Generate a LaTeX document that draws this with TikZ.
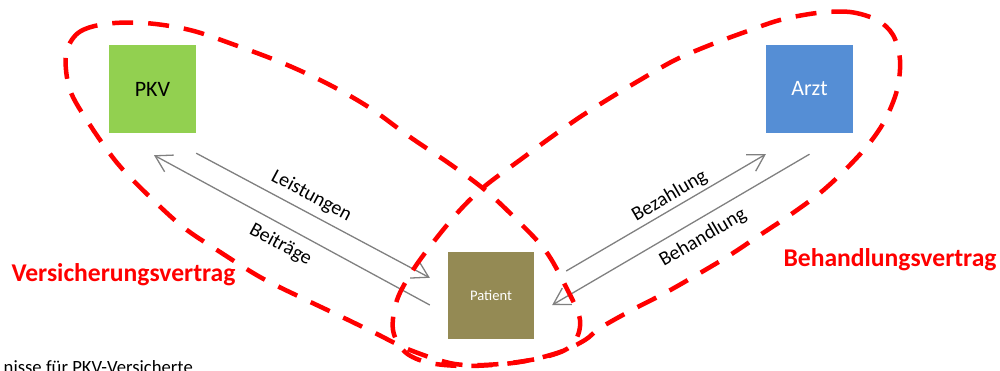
\documentclass[tikz,border=0pt]{standalone}
\usepackage{fontspec}
\setmainfont{Carlito}
\usetikzlibrary{arrows.meta,calc}
\definecolor{pkvgreen}{HTML}{92D050}
\definecolor{arztblue}{HTML}{558ED5}
\definecolor{patbrown}{HTML}{948A54}
\definecolor{flowgray}{HTML}{808080}
\tikzset{
  box/.style={draw=none, minimum width=87pt, minimum height=88pt, inner sep=0pt},
  flow/.style={draw=flowgray, line width=1.3pt, -{Straight Barb[length=16pt,width=19pt]}},
  flowlabel/.style={sloped, inner sep=0pt, font=\fontsize{20}{22}\selectfont},
  loop/.style={draw=red, line width=4.5pt, dash pattern=on 21pt off 15pt},
  contract/.style={text=red, font=\fontsize{25.6}{28}\selectfont\bfseries, inner sep=0pt}
}
\begin{document}
\begin{tikzpicture}[x=1pt,y=-1pt]
\useasboundingbox (0,0) rectangle (1000,370);
\node[box, fill=pkvgreen, font=\fontsize{22}{24}\selectfont] (PKV) at (152.5,89) {PKV};
\node[box, fill=arztblue, text=white, font=\fontsize{22}{24}\selectfont] (Arzt) at (809.5,89) {Arzt};
\node[box, fill=patbrown, text=white, minimum width=86pt, minimum height=87pt, font=\fontsize{14.6}{16}\selectfont] (Patient) at (491,295.5) {Patient};

\draw[flow] ($(PKV.south east)+(0,20)$) -- node[flowlabel, pos=0.46, above=7pt] (lLeist) {Leistungen} ($(Patient.north west)+(-18,26)$);
\draw[flow] ($(Patient.west)+(-18,9.5)$) -- node[flowlabel, pos=0.51, below=9pt] (lBeit) {Beiträge} ($(PKV.south)+(1.5,22)$);
\draw[flow] ($(Patient.east)+(32,-24.5)$) -- node[flowlabel, pos=0.55, above=3pt] (lBez) {Bezahlung} ($(Arzt.south west)+(0,21)$);
\draw[flow] ($(Arzt.south)+(0,21)$) -- node[flowlabel, pos=0.45, below=9pt] (lBeh) {Behandlung} ($(Patient.east)+(18,9.5)$);

\draw[loop] plot[smooth cycle, tension=0.55] coordinates {
 (66,55) (78,33) (105,24) (145,23) (190,30) (235,45) (285,64) (330,85) (370,108)
 (410,137) (450,164) (485,190) (515,218) (545,250) (565,285) (580,320) (572,345)
 (545,357) (500,364) (455,364) (410,350) (375,333) (340,316) (300,297) (260,277)
 (217,250) (183,227) (150,197) (118,164) (90,125) (70,90)};
\draw[loop] plot[smooth cycle, tension=0.55] coordinates {
 (817,13) (850,12) (877,20) (893,35) (900,60) (897,90) (885,120) (868,145) (845,170)
 (820,193) (790,215) (760,235) (730,255) (700,273) (665,293) (632,310) (600,328)
 (585,340) (560,352) (520,362) (470,366) (430,363) (405,352) (393,330) (397,300)
 (413,270) (435,240) (460,210) (485,186) (520,160) (550,138) (580,117) (610,98)
 (640,80) (675,60) (710,45) (745,32) (780,20)};

\node[contract, anchor=base] (vv) at (123.5,281) {Versicherungsvertrag};
\node[contract, anchor=base] (bv) at (890,266) {Behandlungsvertrag};
\node[anchor=base east, inner sep=0pt, font=\fontsize{18.7}{20}\selectfont] (foot) at (193,373) {nisse für PKV-Versicherte};
\end{tikzpicture}
\end{document}
